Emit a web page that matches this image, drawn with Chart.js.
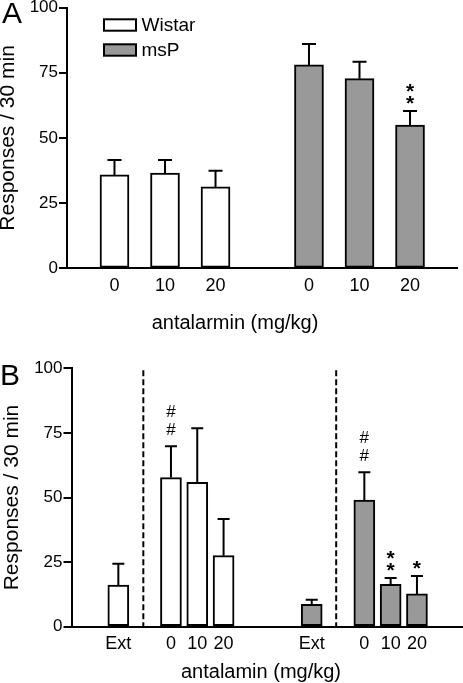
<!DOCTYPE html>
<html>
<head>
<meta charset="utf-8">
<script src="https://cdn.jsdelivr.net/npm/chart.js@4.4.1/dist/chart.umd.min.js"></script>
<style>
  html, body { margin: 0; padding: 0; background: #fff; }
  #boxA { position: absolute; left: 0; top: 0; }
  #boxB { position: absolute; left: 0; top: 340px; }
</style>
</head>
<body>
<div id="boxA"><canvas id="chartA" width="463" height="340"></canvas></div>
<div id="boxB"><canvas id="chartB" width="463" height="343"></canvas></div>
<script>
// ---- data (panel A) ----
const doseLabelsA = ['0', '10', '20'];
const wistarA = [35.8, 36.5, 31.2];
const wistarErrA = [5.7, 5.0, 6.2];
const mspA = [78.0, 72.7, 54.9];
const mspErrA = [8.0, 6.5, 5.4];
const wistarMarksA = ['', '', ''];
const mspMarksA = ['', '', '**'];

// ---- data (panel B) ----
const doseLabelsB = ['Ext', '0', '10', '20'];
const wistarB = [16.1, 57.7, 55.9, 27.5];
const wistarErrB = [8.3, 12.1, 20.9, 14.2];
const mspB = [8.7, 49.0, 16.4, 12.7];
const mspErrB = [1.7, 10.8, 2.4, 6.9];
const wistarMarksB = ['', '##', '', ''];
const mspMarksB = ['', '##', '**', '*'];

const yTicks = [0, 25, 50, 75, 100];

// slot positions on the x axis (layout, not data)
const slotsA = { wistar: [1, 2, 3], msp: [4.85, 5.85, 6.85], min: 0.06, max: 7.78 };
const slotsB = { wistar: [1, 3, 4, 5], msp: [8.35, 10.35, 11.35, 12.35], min: -0.78, max: 14.1, dividers: [1.95, 9.28] };

const FONT = "'Liberation Sans', Arial, sans-serif";
Chart.defaults.font.family = FONT;
Chart.defaults.color = '#000';

const MARK_STYLE = {
  '*': { font: 'bold 21px ' + FONT, lift: 1, step: 12 },
  '#': { font: '17px ' + FONT, lift: 11.5, step: 17.5 }
};

function overlay(cfg) {
  return {
    id: 'overlay',
    afterDatasetsDraw(chart) {
      const ctx = chart.ctx;
      const xs = chart.scales.x, ys = chart.scales.y;
      const area = chart.chartArea;
      ctx.save();
      ctx.strokeStyle = '#000';
      ctx.fillStyle = '#000';
      ctx.lineWidth = 2;

      // dashed separators
      (cfg.dividers || []).forEach(v => {
        const px = xs.getPixelForValue(v);
        ctx.setLineDash([6, 3]);
        ctx.beginPath();
        ctx.moveTo(px, area.top + 2);
        ctx.lineTo(px, area.bottom);
        ctx.stroke();
      });
      ctx.setLineDash([]);

      // error bars (upper only) + significance marks
      chart.data.datasets.forEach((ds, di) => {
        const errs = cfg.errors[di];
        const marks = cfg.marks[di];
        ds.data.forEach((pt, i) => {
          const px = xs.getPixelForValue(pt.x);
          const yBar = ys.getPixelForValue(pt.y);
          const yTop = ys.getPixelForValue(pt.y + errs[i]);
          ctx.beginPath();
          ctx.moveTo(px, yBar);
          ctx.lineTo(px, yTop);
          ctx.moveTo(px - cfg.cap / 2, yTop);
          ctx.lineTo(px + cfg.cap / 2, yTop);
          ctx.stroke();

          const m = marks[i];
          for (let k = 0; k < m.length; k++) {
            const ch = m[m.length - 1 - k];
            const st = MARK_STYLE[ch];
            ctx.font = st.font;
            ctx.textAlign = 'center';
            ctx.textBaseline = 'alphabetic';
            ctx.fillText(ch, px, yTop - st.lift - k * st.step);
          }
        });
      });

      // legend
      if (cfg.legend) {
        chart.data.datasets.forEach((ds, di) => {
          const y0 = 19.3 + di * 25;
          ctx.fillStyle = ds.backgroundColor;
          ctx.fillRect(104, y0, 32, 11.4);
          ctx.strokeRect(104, y0, 32, 11.4);
          ctx.fillStyle = '#000';
          ctx.font = '19px ' + FONT;
          ctx.textAlign = 'left';
          ctx.textBaseline = 'alphabetic';
          ctx.fillText(ds.label, 141.5, y0 + 11.4);
        });
      }

      // x axis title
      ctx.fillStyle = '#000';
      ctx.font = '20px ' + FONT;
      ctx.textAlign = 'center';
      ctx.textBaseline = 'alphabetic';
      ctx.fillText(cfg.xTitle, cfg.xTitleX, cfg.xTitleY);

      // panel letter
      ctx.font = '30px ' + FONT;
      ctx.textAlign = 'left';
      ctx.fillText(cfg.letter, cfg.letterX, cfg.letterY);
      ctx.restore();
    }
  };
}

function makeChart(id, p) {
  const tickLabels = p.labels.concat(p.labels);
  const tickSlots = p.slots.wistar.concat(p.slots.msp);
  return new Chart(document.getElementById(id), {
    type: 'bar',
    data: {
      datasets: [
        {
          label: 'Wistar',
          data: p.wistar.map((v, i) => ({ x: p.slots.wistar[i], y: v })),
          backgroundColor: '#ffffff',
          borderColor: '#000',
          borderWidth: 2,
          borderSkipped: false,
          barThickness: p.barW,
          grouped: false
        },
        {
          label: 'msP',
          data: p.msp.map((v, i) => ({ x: p.slots.msp[i], y: v })),
          backgroundColor: '#999999',
          borderColor: '#000',
          borderWidth: 2,
          borderSkipped: false,
          barThickness: p.barW,
          grouped: false
        }
      ]
    },
    plugins: [overlay(p.overlay)],
    options: {
      responsive: false,
      animation: false,
      events: [],
      layout: { padding: { top: p.padTop, right: p.padRight, left: 0, bottom: 0 } },
      plugins: { legend: { display: false }, tooltip: { enabled: false } },
      scales: {
        x: {
          type: 'linear',
          offset: false,
          min: p.slots.min,
          max: p.slots.max,
          grid: { display: false, drawTicks: false, offset: false },
          border: { display: true, color: '#000', width: 2 },
          afterBuildTicks: s => { s.ticks = tickSlots.map(v => ({ value: v })); },
          afterFit: s => { s.height = p.xAxisH; s.paddingLeft = 0; s.paddingRight = 0; },
          ticks: {
            autoSkip: false,
            maxRotation: 0,
            minRotation: 0,
            padding: 7,
            font: { size: 18 },
            callback: (v, i) => tickLabels[i]
          }
        },
        y: {
          min: 0,
          max: 100,
          afterBuildTicks: s => { s.ticks = yTicks.map(v => ({ value: v })); },
          afterFit: s => { s.width = p.yAxisW; s.paddingTop = 0; s.paddingBottom = 0; },
          grid: { drawOnChartArea: false, drawTicks: true, tickLength: 8, color: '#000', lineWidth: 2 },
          border: { display: true, color: '#000', width: 2 },
          ticks: { padding: 1, font: { size: 17 } },
          title: {
            display: true,
            text: 'Responses / 30 min',
            font: { size: 21, lineHeight: 0.8 },
            padding: { top: p.yTitlePad, bottom: 0 }
          }
        }
      }
    }
  });
}

makeChart('chartA', {
  labels: doseLabelsA, wistar: wistarA, msp: mspA, slots: slotsA,
  barW: 29, padTop: 7.5, padRight: 6, xAxisH: 71.7, yAxisW: 67, yTitlePad: 0,
  overlay: {
    errors: [wistarErrA, mspErrA], marks: [wistarMarksA, mspMarksA], cap: 14,
    legend: true, xTitle: 'antalarmin (mg/kg)', xTitleX: 235, xTitleY: 328.5,
    letter: 'A', letterX: 2, letterY: 23
  }
});

makeChart('chartB', {
  labels: doseLabelsB, wistar: wistarB, msp: mspB, slots: slotsB,
  barW: 21, padTop: 28.3, padRight: 0, xAxisH: 56.3, yAxisW: 71.5, yTitlePad: 4,
  overlay: {
    errors: [wistarErrB, mspErrB], marks: [wistarMarksB, mspMarksB], cap: 12,
    dividers: slotsB.dividers,
    legend: false, xTitle: 'antalamin (mg/kg)', xTitleX: 261, xTitleY: 337.8,
    letter: 'B', letterX: 0, letterY: 45
  }
});
</script>
</body>
</html>
